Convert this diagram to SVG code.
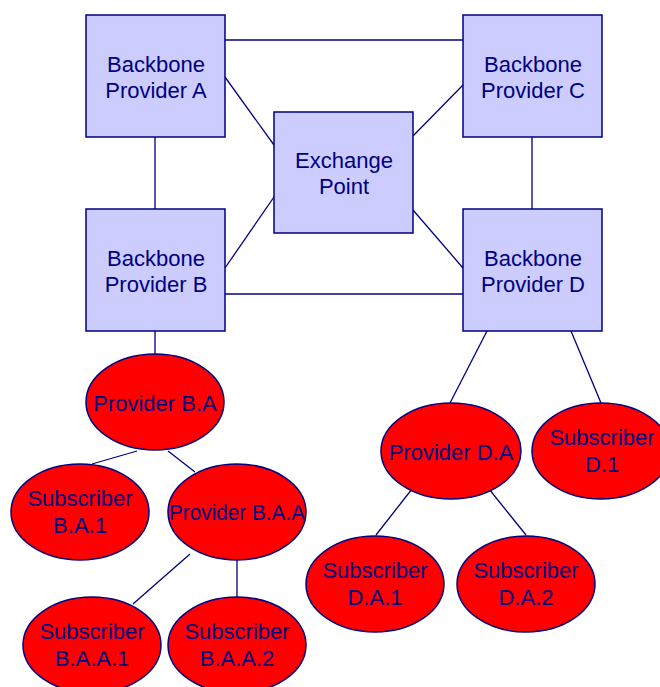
<svg xmlns="http://www.w3.org/2000/svg" width="660" height="687" viewBox="0 0 660 687">
<style>
.box{fill:#ccccff;stroke:#000080;stroke-width:1.5}
.ell{fill:#ff0000;stroke:#000080;stroke-width:1.5}
.t{font-family:"Liberation Sans",Arial,sans-serif;font-size:22px;fill:#000080;text-anchor:middle}
.c line{stroke:#000080;stroke-width:1.3}
</style>
<rect width="660" height="687" fill="#ffffff"/>
<g class="c" id="connectors">
<line x1="225" y1="40" x2="463" y2="40"/>
<line x1="225" y1="294" x2="463" y2="294"/>
<line x1="155" y1="137" x2="155" y2="209"/>
<line x1="532" y1="137" x2="532" y2="209"/>
<line x1="225" y1="77" x2="274" y2="145"/>
<line x1="413" y1="136" x2="463" y2="85"/>
<line x1="274" y1="197" x2="225" y2="268"/>
<line x1="413" y1="210" x2="463" y2="268"/>
<line x1="155" y1="331" x2="155" y2="354"/>
<line x1="137" y1="451" x2="92" y2="464"/>
<line x1="168" y1="451" x2="195" y2="472"/>
<line x1="190" y1="554" x2="133" y2="604"/>
<line x1="237" y1="560" x2="237" y2="597"/>
<line x1="487" y1="331" x2="450" y2="403"/>
<line x1="571" y1="331" x2="601" y2="403"/>
<line x1="412" y1="489" x2="376" y2="535"/>
<line x1="489" y1="489" x2="526" y2="535"/>
</g>
<g id="bbA"><rect class="box" x="86" y="15" width="139" height="122"/><text class="t" x="156" y="72">Backbone</text><text class="t" x="156" y="98">Provider A</text></g>
<g id="bbC"><rect class="box" x="463" y="15" width="139" height="122"/><text class="t" x="533" y="72">Backbone</text><text class="t" x="533" y="98">Provider C</text></g>
<g id="bbB"><rect class="box" x="86" y="209" width="139" height="122"/><text class="t" x="156" y="266">Backbone</text><text class="t" x="156" y="292">Provider B</text></g>
<g id="bbD"><rect class="box" x="463" y="209" width="139" height="122"/><text class="t" x="533" y="266">Backbone</text><text class="t" x="533" y="292">Provider D</text></g>
<g id="xp"><rect class="box" x="274" y="112" width="139" height="121"/><text class="t" x="344" y="168">Exchange</text><text class="t" x="344" y="194">Point</text></g>
<g id="pBA"><ellipse class="ell" cx="155" cy="402" rx="69" ry="48"/><text class="t" x="155" y="411">Provider B.A</text></g>
<g id="sBA1"><ellipse class="ell" cx="80" cy="512" rx="69" ry="48"/><text class="t" x="80" y="506">Subscriber</text><text class="t" x="80" y="533">B.A.1</text></g>
<g id="pBAA"><ellipse class="ell" cx="237" cy="512" rx="69" ry="48"/><text class="t" x="237" y="520" textLength="136" lengthAdjust="spacingAndGlyphs">Provider B.A.A</text></g>
<g id="sBAA1"><ellipse class="ell" cx="92" cy="645" rx="69" ry="48"/><text class="t" x="92" y="639">Subscriber</text><text class="t" x="92" y="666">B.A.A.1</text></g>
<g id="sBAA2"><ellipse class="ell" cx="237" cy="645" rx="69" ry="48"/><text class="t" x="237" y="639">Subscriber</text><text class="t" x="237" y="666">B.A.A.2</text></g>
<g id="pDA"><ellipse class="ell" cx="451" cy="451" rx="70" ry="48"/><text class="t" x="451" y="460">Provider D.A</text></g>
<g id="sD1"><ellipse class="ell" cx="601" cy="451" rx="69" ry="48"/><text class="t" x="602" y="445">Subscriber</text><text class="t" x="602" y="472">D.1</text></g>
<g id="sDA1"><ellipse class="ell" cx="375" cy="584" rx="69" ry="48"/><text class="t" x="375" y="578">Subscriber</text><text class="t" x="375" y="605">D.A.1</text></g>
<g id="sDA2"><ellipse class="ell" cx="526" cy="584" rx="69" ry="48"/><text class="t" x="526" y="578">Subscriber</text><text class="t" x="526" y="605">D.A.2</text></g>
</svg>
